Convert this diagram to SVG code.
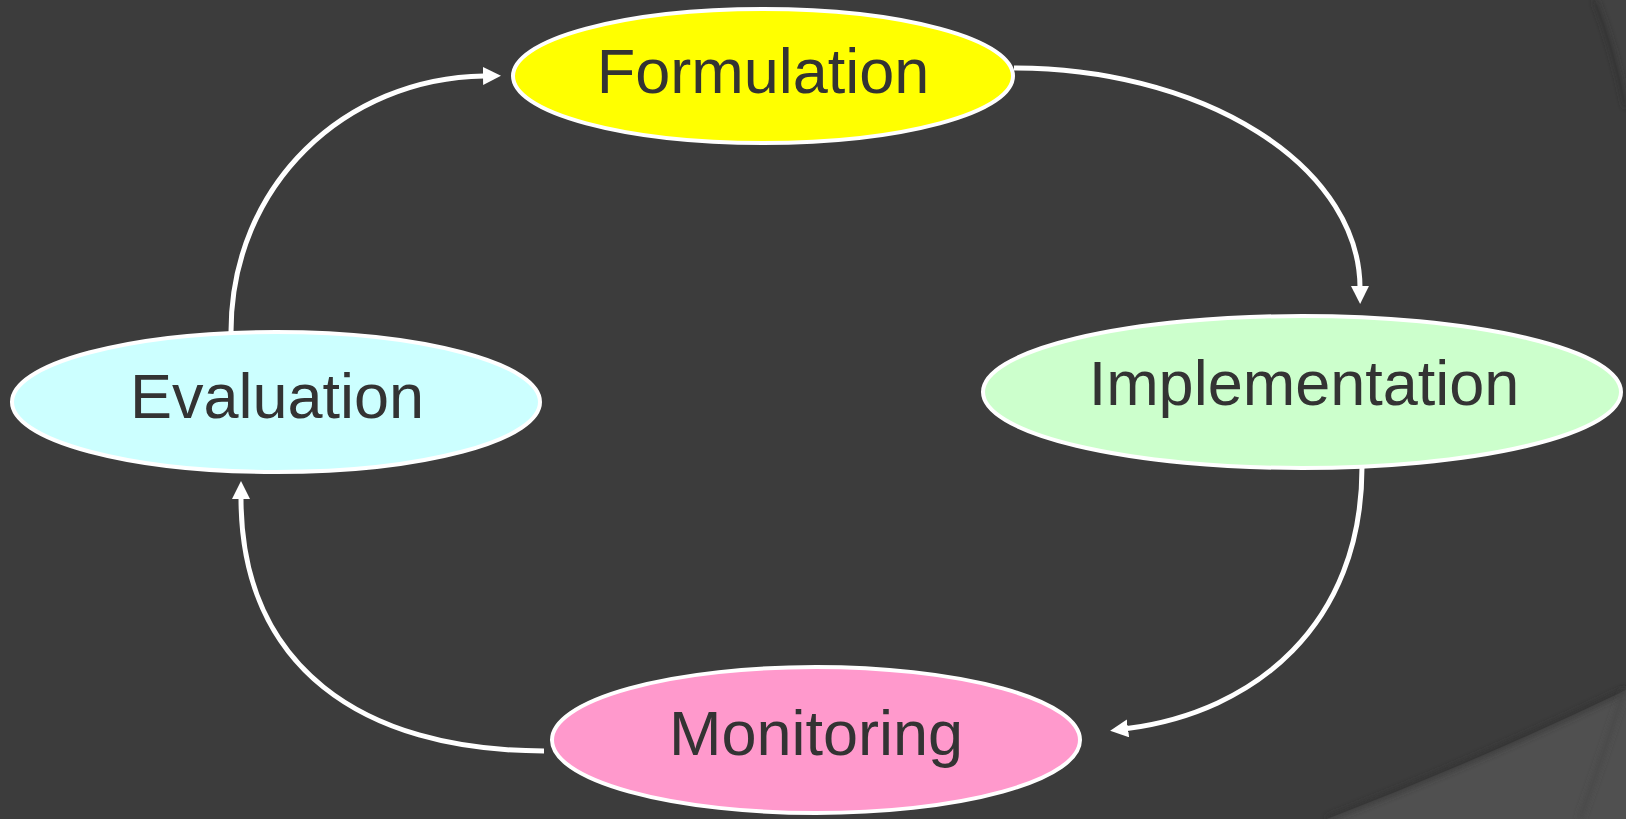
<svg xmlns="http://www.w3.org/2000/svg" width="1626" height="819" viewBox="0 0 1626 819">
<style>
.node ellipse{stroke:#ffffff;stroke-width:4}
.node text{font-family:"Liberation Sans",Arial,sans-serif;font-size:63px;fill:#333333;text-anchor:middle}
.conn path{fill:none;stroke:#ffffff;stroke-width:5}
</style>
<defs>
<marker id="arr" markerUnits="userSpaceOnUse" markerWidth="20" markerHeight="20" refX="1" refY="9" orient="auto">
<path d="M0,0 L18,9 L0,18 Z" fill="#ffffff"/>
</marker>
<filter id="blur" x="-20%" y="-20%" width="140%" height="140%"><feGaussianBlur stdDeviation="3"/></filter>
</defs>
<g id="background">
<rect width="1626" height="819" fill="#3c3c3c"/>
<path d="M1595,0 Q1614,48 1626,107 L1626,0 Z" fill="#424242"/>
<path d="M1595,0 Q1614,48 1626,107" fill="none" stroke="#2e2e2e" stroke-width="3" filter="url(#blur)"/>
<path d="M1327,819 Q1480,760 1626,690 L1626,819 Z" fill="#505050"/>
<path d="M1327,819 Q1480,760 1626,690" fill="none" stroke="#2e2e2e" stroke-width="4" filter="url(#blur)" opacity="0.8"/>
<path d="M1580,819 Q1605,750 1624,690" fill="none" stroke="#454545" stroke-width="3" filter="url(#blur)"/>
</g>
<g id="connectors" class="conn">
<path d="M1014,68 A346,220 0 0 1 1360,287" marker-end="url(#arr)"/>
<path d="M1362,467 C1362,625 1255,712 1127,728.5" marker-end="url(#arr)"/>
<path d="M544,751 C360,751 241,665 241,498" marker-end="url(#arr)"/>
<path d="M231,332 C231,185 345,78 484,76" marker-end="url(#arr)"/>
</g>
<g id="formulation" class="node">
<ellipse cx="763" cy="76" rx="250" ry="67" fill="#ffff00"/>
<text x="763" y="93">Formulation</text>
</g>
<g id="implementation" class="node">
<ellipse cx="1302" cy="392" rx="319" ry="76" fill="#ccffcc"/>
<text x="1304" y="405">Implementation</text>
</g>
<g id="monitoring" class="node">
<ellipse cx="816" cy="740" rx="264" ry="73" fill="#ff99cc"/>
<text x="816" y="755">Monitoring</text>
</g>
<g id="evaluation" class="node">
<ellipse cx="276" cy="402" rx="264" ry="70" fill="#ccffff"/>
<text x="277" y="418">Evaluation</text>
</g>
</svg>
